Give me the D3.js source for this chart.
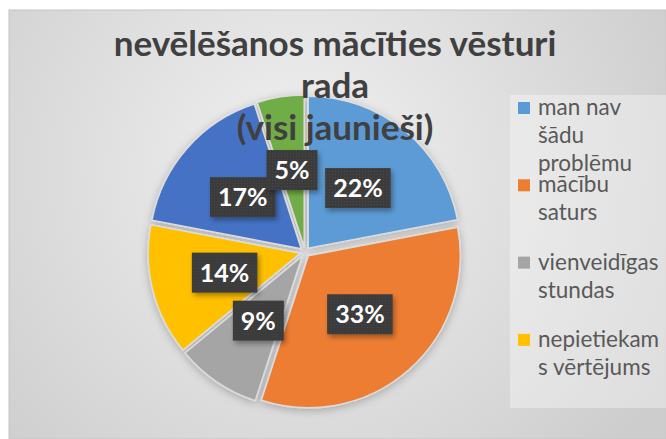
<!DOCTYPE html>
<html>
<head>
<meta charset="utf-8">
<script src="https://cdn.jsdelivr.net/npm/d3@7"></script>
<style>
  html, body { margin: 0; padding: 0; background: #fff; }
  svg { display: block; font-family: Lato, "Open Sans", sans-serif; }
</style>
</head>
<body>
<svg id="chart" width="666" height="439"></svg>
<script>
// data
const categories = [
  "man nav šādu problēmu",
  "mācību saturs",
  "vienveidīgas stundas",
  "nepietiekams vērtējums",
  "cits",
  "cits (2)"
];
const values = [22, 33, 9, 14, 17, 5];
const colors = ["#5B9BD5", "#ED7D31", "#A5A5A5", "#FFC000", "#4472C4", "#70AD47"];
// legend is clipped in the original: only the first four entries show, wrapped like this
const legendLines = [
  ["man nav", "šādu", "problēmu"],
  ["mācību", "saturs"],
  ["vienveidīgas", "stundas"],
  ["nepietiekam", "s vērtējums"]
];
const titleLines = ["nevēlēšanos mācīties vēsturi", "rada", "(visi jaunieši)"];

const svg = d3.select("#chart");
const defs = svg.append("defs");

/**
 * BACKGROUND
 */
const bg = defs.append("radialGradient")
  .attr("id", "bg").attr("gradientUnits", "userSpaceOnUse")
  .attr("cx", 300).attr("cy", 170).attr("r", 420);
bg.append("stop").attr("offset", 0).attr("stop-color", "#f1f1f1");
bg.append("stop").attr("offset", 1).attr("stop-color", "#cdcdcd");

const shadow = defs.append("filter").attr("id", "shadow")
  .attr("x", "-20%").attr("y", "-20%").attr("width", "150%").attr("height", "150%");
shadow.append("feDropShadow").attr("dx", 2).attr("dy", 3)
  .attr("stdDeviation", 2.5).attr("flood-color", "#000").attr("flood-opacity", 0.35);

const pieShadow = defs.append("filter").attr("id", "pieShadow")
  .attr("x", "-20%").attr("y", "-20%").attr("width", "140%").attr("height", "140%");
pieShadow.append("feDropShadow").attr("dx", 0).attr("dy", 2)
  .attr("stdDeviation", 4).attr("flood-color", "#000").attr("flood-opacity", 0.25);

// speckled texture of the label boxes
const pat = defs.append("pattern").attr("id", "speck")
  .attr("width", 3).attr("height", 3).attr("patternUnits", "userSpaceOnUse");
pat.append("rect").attr("width", 3).attr("height", 3).attr("fill", "#3b3b3b");
pat.append("rect").attr("x", 1).attr("y", 1).attr("width", 1).attr("height", 1).attr("fill", "#4a4a4a");

svg.append("rect")
  .attr("x", 9).attr("y", 10).attr("width", 666 - 9).attr("height", 439 - 10)
  .attr("fill", "url(#bg)")
  .attr("stroke", "#c4c4c4").attr("stroke-width", 1);

/**
 * LEGEND BOX
 */
svg.append("rect")
  .attr("x", 510).attr("y", 95).attr("width", 156).attr("height", 313)
  .attr("fill", "#ffffff").attr("opacity", 0.35);

/**
 * PIE
 */
const cx = 305, cy = 252, R = 152, explode = 5;
const pie = d3.pie().sort(null).value(d => d);
const arcs = pie(values);
const arc = d3.arc().innerRadius(0).outerRadius(R);
const labelArc = d3.arc().innerRadius(78).outerRadius(78);

const offset = d => {
  const a = (d.startAngle + d.endAngle) / 2;
  return [Math.sin(a) * explode, -Math.cos(a) * explode];
};

const pieG = svg.append("g")
  .attr("transform", `translate(${cx},${cy})`)
  .attr("filter", "url(#pieShadow)");

pieG.selectAll("path")
  .data(arcs)
  .enter()
  .append("path")
  .attr("d", arc)
  .attr("transform", d => `translate(${offset(d)})`)
  .attr("fill", (d, i) => colors[i])
  .attr("stroke", "#dcdcdc")
  .attr("stroke-width", 1.5);

/**
 * TITLE (drawn over the pie, like the original)
 */
svg.append("g").selectAll("text")
  .data(titleLines)
  .enter()
  .append("text")
  .attr("x", 335)
  .attr("y", (d, i) => 56 + i * 42)
  .attr("text-anchor", "middle")
  .attr("font-size", 35)
  .attr("font-weight", "bold")
  .attr("fill", "#404040")
  .text(d => d);

/**
 * DATA LABELS
 */
const labels = svg.append("g").attr("transform", `translate(${cx},${cy})`);
const lab = labels.selectAll("g")
  .data(arcs)
  .enter()
  .append("g")
  .attr("transform", d => {
    const c = labelArc.centroid(d), o = offset(d);
    return `translate(${c[0] + o[0]},${c[1] + o[1]})`;
  });

lab.append("text")
  .attr("class", "lbl")
  .attr("text-anchor", "middle")
  .attr("dy", "0.36em")
  .attr("font-size", 25)
  .attr("font-weight", "bold")
  .attr("fill", "#ffffff")
  .text(d => d.value + "%");

lab.each(function () {
  const g = d3.select(this);
  const w = g.select("text").node().getComputedTextLength() + 16;
  g.insert("rect", "text")
    .attr("x", -w / 2).attr("y", -20)
    .attr("width", w).attr("height", 40)
    .attr("fill", "url(#speck)")
    .attr("filter", "url(#shadow)");
});

/**
 * LEGEND
 */
const legend = svg.append("g");
const item = legend.selectAll("g")
  .data(legendLines)
  .enter()
  .append("g")
  .attr("transform", (d, i) => `translate(518,${115 + i * 77.3})`);

item.append("rect")
  .attr("x", 0).attr("y", -13)
  .attr("width", 12).attr("height", 12)
  .attr("fill", (d, i) => colors[i]);

item.append("text")
  .attr("x", 20)
  .attr("font-size", 22.5)
  .attr("fill", "#595959")
  .selectAll("tspan")
  .data(d => d)
  .enter()
  .append("tspan")
  .attr("x", 20)
  .attr("dy", (d, i) => i === 0 ? 0 : 28)
  .text(d => d);
</script>
</body>
</html>
